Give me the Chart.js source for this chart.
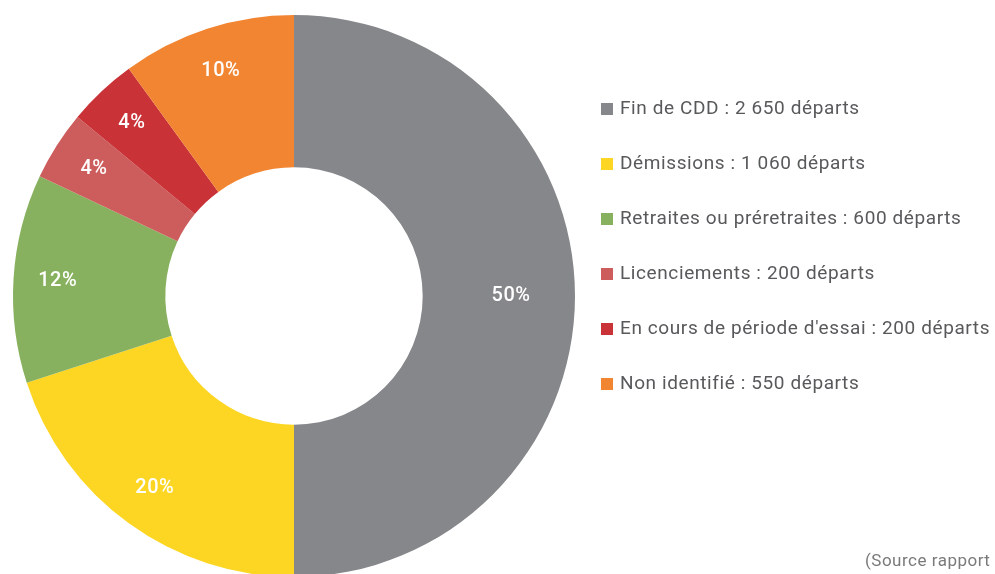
<!DOCTYPE html>
<html>
<head>
<meta charset="utf-8">
<script src="https://cdn.jsdelivr.net/npm/chart.js@4"></script>
<style>
  html, body { margin: 0; padding: 0; background: #fff; overflow: hidden; }
  #container { position: relative; width: 995px; height: 600px; }
</style>
</head>
<body>
<div id="container"><canvas id="myChart"></canvas></div>
<script>
// slice data (percent of departures) and legend texts
let categories = ['Fin de CDD', 'Démissions', 'Retraites ou préretraites', 'Licenciements', "En cours de période d'essai", 'Non identifié'];
let departs = ['2 650', '1 060', '600', '200', '200', '550'];
let percents = [50, 20, 12, 4, 4, 10];
let colors = ['#86878b', '#fcd622', '#88b15f', '#cc5d5c', '#c93237', '#f28532'];
let sourceText = '(Source rapport';

let fontName = 'Roboto, "DejaVu Sans Condensed", sans-serif';

// percent labels inside the ring
let sliceLabels = {
  id: 'sliceLabels',
  afterDatasetsDraw(chart) {
    let ctx = chart.ctx;
    let meta = chart.getDatasetMeta(0);
    ctx.save();
    ctx.fillStyle = '#ffffff';
    ctx.font = '500 20px ' + fontName;
    ctx.letterSpacing = '0.5px';
    ctx.textAlign = 'center';
    ctx.textBaseline = 'middle';
    meta.data.forEach(function(arc, i) {
      let p = arc.getProps(['x', 'y', 'startAngle', 'endAngle', 'innerRadius', 'outerRadius'], true);
      let mid = (p.startAngle + p.endAngle) / 2;
      // big slice label sits a bit closer to the hole
      let f = percents[i] >= 50 ? 0.58 : 0.71;
      let r = p.innerRadius + (p.outerRadius - p.innerRadius) * f;
      ctx.fillText(percents[i] + '%', p.x + Math.cos(mid) * r, p.y + Math.sin(mid) * r);
    });
    ctx.restore();
  }
};

// legend on the right and source note
let sideLegend = {
  id: 'sideLegend',
  afterDraw(chart) {
    let ctx = chart.ctx;
    ctx.save();
    ctx.font = '19px ' + fontName;
    ctx.letterSpacing = '0.6px';
    ctx.textBaseline = 'middle';
    ctx.textAlign = 'left';
    for (let i = 0; i < categories.length; i++) {
      let y = 109 + i * 55;
      ctx.fillStyle = colors[i];
      ctx.fillRect(601, y - 6, 12, 12);
      ctx.fillStyle = '#58595b';
      ctx.fillText(categories[i] + ' : ' + departs[i] + ' départs', 620, y);
    }
    ctx.font = '17px ' + fontName;
    ctx.letterSpacing = '0.5px';
    ctx.fillStyle = '#7a7a7a';
    ctx.fillText(sourceText, 865, 562);
    ctx.restore();
  }
};

let ctx = document.getElementById('myChart').getContext('2d');
let chart = new Chart(ctx, {
  type: 'doughnut',
  data: {
    labels: categories,
    datasets: [{
      data: percents,
      backgroundColor: colors,
      borderWidth: 0,
      hoverOffset: 0
    }]
  },
  options: {
    responsive: true,
    maintainAspectRatio: false,
    animation: false,
    cutout: '45.8%',
    layout: { padding: { left: 11, top: 15, right: 418, bottom: 23 } },
    plugins: {
      legend: { display: false },
      tooltip: { enabled: false }
    }
  },
  plugins: [sliceLabels, sideLegend]
});
</script>
</body>
</html>
